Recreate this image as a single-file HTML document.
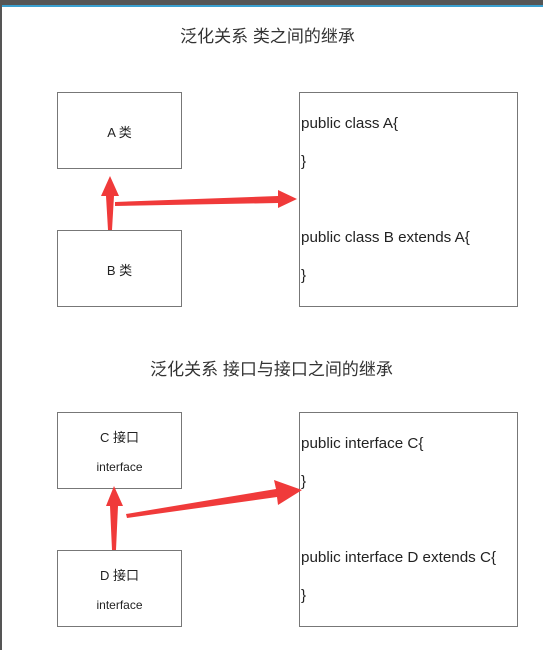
<!DOCTYPE html>
<html><head><meta charset="utf-8"><style>
body{margin:0;width:543px;height:650px;background:#fff;position:relative;overflow:hidden;font-family:"Liberation Sans","Noto Sans CJK SC",sans-serif;color:#222}
.b{position:absolute;border:1px solid #777;box-sizing:border-box;background:#fff}
.t{position:absolute;white-space:nowrap}
</style></head><body>
<div style="position:absolute;left:0;top:0;width:543px;height:5px;background:#555"></div>
<div style="position:absolute;left:0;top:5px;width:543px;height:2px;background:#3aa0d0"></div>
<div style="position:absolute;left:0;top:0;width:2px;height:650px;background:#555"></div>
<div class="t" style="left:0;width:535px;text-align:center;top:22px;font-size:17px;color:#333">泛化关系 类之间的继承</div>
<div class="b" style="left:57px;top:92px;width:125px;height:77px"></div>
<div class="t" style="left:57px;width:125px;text-align:center;top:122px;font-size:13px">A 类</div>
<div class="b" style="left:57px;top:230px;width:125px;height:77px"></div>
<div class="t" style="left:57px;width:125px;text-align:center;top:260px;font-size:13px">B 类</div>
<div class="b" style="left:299px;top:92px;width:219px;height:215px"></div>
<div class="t" style="left:301px;top:115px;font-size:15.2px">public class A{</div>
<div class="t" style="left:301px;top:153px;font-size:15.2px">}</div>
<div class="t" style="left:301px;top:229px;font-size:15.2px">public class B extends A{</div>
<div class="t" style="left:301px;top:267px;font-size:15.2px">}</div>

<div class="t" style="left:0;width:543px;text-align:center;top:355px;font-size:17px;color:#333">泛化关系 接口与接口之间的继承</div>
<div class="b" style="left:57px;top:412px;width:125px;height:77px"></div>
<div class="t" style="left:57px;width:125px;text-align:center;top:427px;font-size:13px">C 接口</div>
<div class="t" style="left:57px;width:125px;text-align:center;top:460px;font-size:12px">interface</div>
<div class="b" style="left:57px;top:550px;width:125px;height:77px"></div>
<div class="t" style="left:57px;width:125px;text-align:center;top:565px;font-size:13px">D 接口</div>
<div class="t" style="left:57px;width:125px;text-align:center;top:598px;font-size:12px">interface</div>
<div class="b" style="left:299px;top:412px;width:219px;height:215px"></div>
<div class="t" style="left:301px;top:435px;font-size:15.2px">public interface C{</div>
<div class="t" style="left:301px;top:473px;font-size:15.2px">}</div>
<div class="t" style="left:301px;top:549px;font-size:15.2px">public interface D extends C{</div>
<div class="t" style="left:301px;top:587px;font-size:15.2px">}</div>

<svg width="543" height="650" style="position:absolute;left:0;top:0">
<g fill="#f03a3a">
<polygon points="108,230 106,196 101,196 110,176 119,196 114,196 112,230"/>
<polygon points="115,202 278,196 278,190 297,199 278,208 278,203 115,206"/>
<polygon points="112,550 110,506 106,506 114,486 123,506 118,506 116,550"/>
<polygon points="126,514 276,489 274,480 302,490 278,505 277,497 127,518"/>
</g>
</svg>
</body></html>
